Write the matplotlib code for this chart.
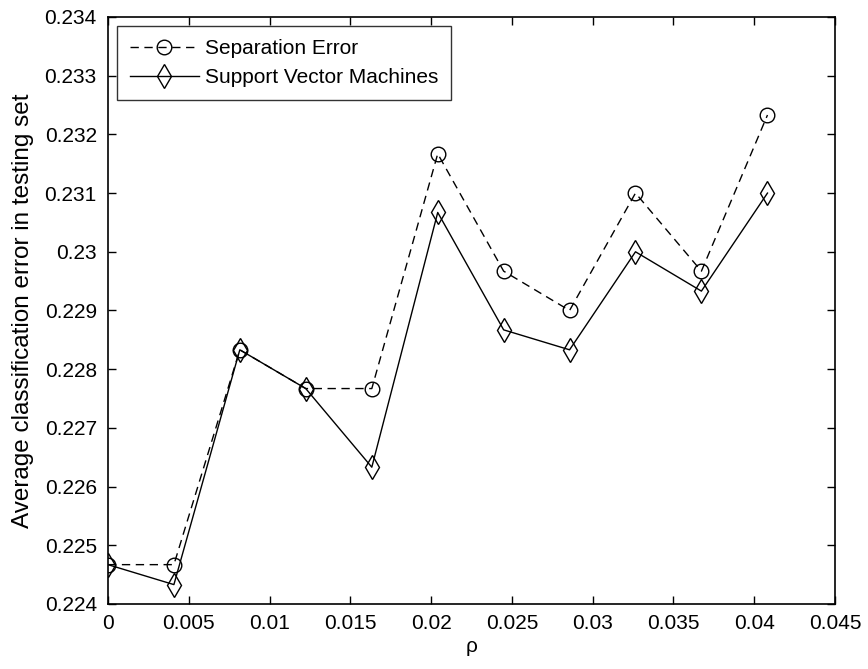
import matplotlib.pyplot as plt

plt.rcParams['font.family'] = ['Liberation Sans', 'DejaVu Sans']

rho = [0, 0.00408, 0.00816, 0.01224, 0.01633, 0.02041, 0.02449, 0.02857, 0.03265, 0.03673, 0.04082]
sep_error = [0.22467, 0.22467, 0.22833, 0.22767, 0.22767, 0.23167, 0.22967, 0.22900, 0.23100, 0.22967, 0.23233]
svm_error = [0.22467, 0.22433, 0.22833, 0.22767, 0.22633, 0.23067, 0.22867, 0.22833, 0.23000, 0.22933, 0.23100]

xticks = [0, 0.005, 0.01, 0.015, 0.02, 0.025, 0.03, 0.035, 0.04, 0.045]
xlabels = ['0', '0.005', '0.01', '0.015', '0.02', '0.025', '0.03', '0.035', '0.04', '0.045']
yticks = [0.224, 0.225, 0.226, 0.227, 0.228, 0.229, 0.23, 0.231, 0.232, 0.233, 0.234]
ylabels = ['0.224', '0.225', '0.226', '0.227', '0.228', '0.229', '0.23', '0.231', '0.232', '0.233', '0.234']

fig = plt.figure(figsize=(8.68, 6.69), dpi=100)
ax = fig.add_axes([0.1244, 0.0972, 0.8376, 0.8774])

ax.plot(rho, sep_error, color='black', linestyle=(0, (6, 4)), linewidth=1.0,
        marker='o', markersize=10.5, markerfacecolor='none', markeredgecolor='black',
        markeredgewidth=1.0, label='Separation Error')
ax.plot(rho, svm_error, color='black', linestyle='-', linewidth=1.0,
        marker='d', markersize=12, markerfacecolor='none', markeredgecolor='black',
        markeredgewidth=1.0, label='Support Vector Machines')

ax.set_xlim(0, 0.045)
ax.set_ylim(0.224, 0.234)
ax.set_xticks(xticks)
ax.set_xticklabels(xlabels)
ax.set_yticks(yticks)
ax.set_yticklabels(ylabels)
ax.tick_params(direction='in', top=True, right=True, length=6, width=1, labelsize=15)
ax.tick_params(axis='y', pad=8)
ax.tick_params(axis='x', pad=7)
for s in ax.spines.values():
    s.set_linewidth(1.2)

ax.set_xlabel('ρ', fontsize=15, labelpad=3)
ax.set_ylabel('Average classification error in testing set', fontsize=17.5, labelpad=8)

leg = ax.legend(loc='upper left', fontsize=15, frameon=True, fancybox=False,
                edgecolor='black', borderaxespad=0.45, handlelength=3.3,
                handletextpad=0.3, borderpad=0.6, labelspacing=0.5)
leg.get_frame().set_linewidth(1.0)

fig.savefig('out.png', dpi=100)
